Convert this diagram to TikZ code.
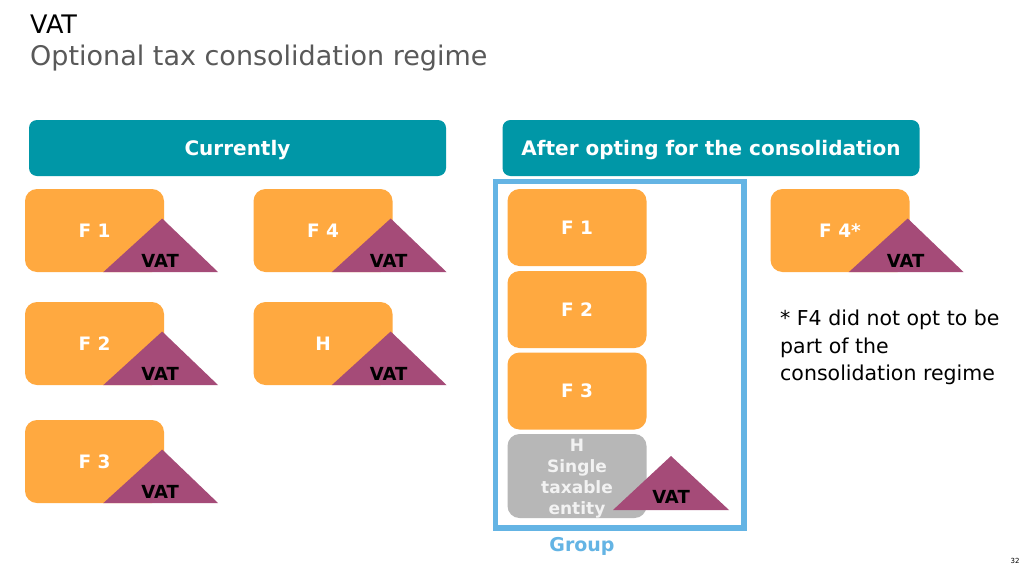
\documentclass[tikz,border=0pt]{standalone}
\usepackage{fontspec}
\setmainfont{DejaVu Sans}
\usetikzlibrary{calc}

\definecolor{headteal}{RGB}{0,151,167}
\definecolor{firmorange}{RGB}{255,169,64}
\definecolor{vatpurple}{RGB}{165,75,120}
\definecolor{groupblue}{RGB}{100,180,228}
\definecolor{hgray}{RGB}{183,183,183}
\definecolor{subgray}{RGB}{89,89,89}
\definecolor{hwhite}{RGB}{242,242,242}

\tikzset{
    header/.style={fill=headteal, rounded corners=8pt, minimum width=417pt, minimum height=56pt, inner sep=0pt, text=white, font=\fontsize{20}{24}\selectfont\bfseries},
    firm/.style={fill=firmorange, rounded corners=12pt, minimum width=139pt, minimum height=83pt, inner sep=0pt, text=white, font=\fontsize{18.5}{22}\selectfont\bfseries},
    member/.style={firm, minimum height=77pt},
    vat/.style={inner sep=0pt, text=black, font=\fontsize{18}{22}\selectfont\bfseries}
}

\begin{document}
\begin{tikzpicture}[x=1pt, y=-1pt]
        \useasboundingbox[fill=white] (0,0) rectangle (1024,570);

        % title
        \node[anchor=base west, inner sep=0pt, font=\fontsize{25.5}{30}\selectfont] (title) at (30,33) {VAT};
        \node[anchor=base west, inner sep=0pt, text=subgray, font=\fontsize{27}{30}\selectfont] (subtitle) at (30,65) {Optional tax consolidation regime};

        % headers
        \node[header] (now) at (237.5,148) {};
        \node[header] (after) at (711,148) {};
        \node[text=white, font=\fontsize{20}{24}\selectfont\bfseries] (nowtext) at ($(now)+(0,2)$) {Currently};
        \node[text=white, font=\fontsize{20}{24}\selectfont\bfseries] (aftertext) at ($(after)+(0,2)$) {After opting for the consolidation};

        % currently
        \node[firm] (f1) at (94.5,230.5) {F 1};
        \node[firm] (f4) at (323,230.5) {F 4};
        \node[firm] (f2) at (94.5,343.5) {F 2};
        \node[firm] (h) at (323,343.5) {H};
        \node[firm] (f3) at (94.5,461.5) {F 3};

        \fill[vatpurple] ($(f1.south east)+(-61,0)$) -- ($(f1.east)+(-2,-12)$) -- ($(f1.south east)+(54,0)$) -- cycle;
        \fill[vatpurple] ($(f4.south east)+(-61,0)$) -- ($(f4.east)+(-2,-12)$) -- ($(f4.south east)+(54,0)$) -- cycle;
        \fill[vatpurple] ($(f2.south east)+(-61,0)$) -- ($(f2.east)+(-2,-12)$) -- ($(f2.south east)+(54,0)$) -- cycle;
        \fill[vatpurple] ($(h.south east)+(-61,0)$) -- ($(h.east)+(-2,-12)$) -- ($(h.south east)+(54,0)$) -- cycle;
        \fill[vatpurple] ($(f3.south east)+(-61,0)$) -- ($(f3.east)+(-2,-12)$) -- ($(f3.south east)+(54,0)$) -- cycle;

        \node[vat] (vf1) at ($(f1.south east)+(-4,-11)$) {VAT};
        \node[vat] (vf4) at ($(f4.south east)+(-4,-11)$) {VAT};
        \node[vat] (vf2) at ($(f2.south east)+(-4,-11)$) {VAT};
        \node[vat] (vh) at ($(h.south east)+(-4,-11)$) {VAT};
        \node[vat] (vf3) at ($(f3.south east)+(-4,-11)$) {VAT};

        % after the consolidation
        \draw[groupblue, line width=5.5pt] (495.5,181.5) rectangle (744,528);
        \node[member] (g1) at (577,227.5) {F 1};
        \node[member] (g2) at (577,309.5) {F 2};
        \node[member] (g3) at (577,391) {F 3};
        \node[member, fill=hgray, minimum height=84pt] (gh) at (577,476) {};
        \node[inner sep=0pt, text=hwhite, align=center, font=\fontsize{17}{21}\selectfont\bfseries] (ghtext) at ($(gh)+(0,3)$) {H\\Single\\taxable\\entity};
        \fill[vatpurple] (613,510) -- (671,456) -- (729,510) -- cycle;
        \node[vat] (vgh) at (671,497) {VAT};
        \node[inner sep=0pt, text=groupblue, font=\fontsize{19}{23}\selectfont\bfseries] (grp) at (582,546) {Group};

        \node[firm] (f4s) at (840,230.5) {F 4*};
        \fill[vatpurple] ($(f4s.south east)+(-61,0)$) -- ($(f4s.east)+(-2,-12)$) -- ($(f4s.south east)+(54,0)$) -- cycle;
        \node[vat] (vf4s) at ($(f4s.south east)+(-4,-11)$) {VAT};

        \node[anchor=north west, inner sep=0pt, align=left, font=\fontsize{20.5}{27.5}\selectfont] (note) at (780,310) {* F4 did not opt to be\\part of the\\consolidation regime};

        \node[inner sep=0pt, font=\fontsize{7}{8}\selectfont] (page) at (1015,561) {32};
    \end{tikzpicture}
\end{document}
